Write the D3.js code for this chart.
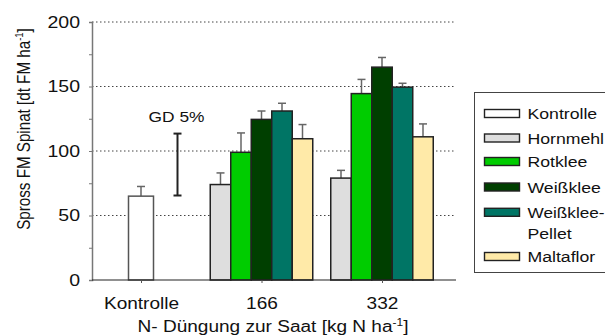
<!DOCTYPE html>
<html><head><meta charset="utf-8">
<script src="https://cdn.jsdelivr.net/npm/d3@7"></script>
<style>body{margin:0;background:#fff}svg{display:block}text{font-family:"Liberation Sans",Arial,sans-serif;fill:#111}</style>
</head><body>
<svg id="c" width="605" height="336"></svg>
<script>
const groups = ["Kontrolle", "166", "332"];
const series = ["Kontrolle", "Hornmehl", "Rotklee", "Weißklee", "Weißklee-Pellet", "Maltaflor"];
const colors = ["#ffffff", "#dedede", "#00cc00", "#003f00", "#007565", "#ffeaa8"];
// values per group (null = not present)
const vKontrolle = [65, null, null, null, null, null];
const v166 = [null, 74, 99, 124.5, 131, 109.5];
const v332 = [null, 79, 144.5, 165, 149.5, 111];
const eKontrolle = [72.5, null, null, null, null, null];
const e166 = [null, 83, 114, 131, 137, 120.5];
const e332 = [null, 85, 155.5, 172.5, 152.5, 121];
const gdLow = 65.5, gdHigh = 113.5;
const yTicks = [0, 50, 100, 150, 200];

const svg = d3.select("#c");
const y = d3.scaleLinear().domain([0, 200]).range([280, 22]);
const xg = d3.scalePoint().domain(groups).range([141, 382]);
const plotL = 92, plotR = 456;

function stext(parent, x, yy, s, size, sx, anchor) {
  const t = parent.append("text").attr("transform", `translate(${x},${yy}) scale(${sx},1)`)
    .attr("font-size", size).attr("text-anchor", anchor || "start");
  return t;
}

// gridlines
svg.append("g").selectAll("line").data(yTicks.filter(d => d > 0)).join("line")
  .attr("x1", plotL).attr("x2", plotR).attr("y1", d => y(d)).attr("y2", d => y(d))
  .attr("stroke", "#444").attr("stroke-width", 1).attr("stroke-dasharray", "1.5,2.5");

// y axis
const yAxis = d3.axisLeft(y).tickValues(d3.range(0, 201, 25)).tickSize(3)
  .tickFormat(d => yTicks.includes(d) ? d : "");
const ya = svg.append("g").attr("transform", `translate(${plotL},0)`).call(yAxis);
ya.select(".domain").attr("stroke", "#777").attr("stroke-width", 1.5);
ya.selectAll(".tick line").attr("stroke", "#777");
ya.selectAll(".tick text").attr("font-size", 16).attr("fill", "#111").attr("x", -9.8)
  .attr("transform", "scale(1.22,1)")
  .style("font-family", "Liberation Sans, Arial, sans-serif");

// bars
const bw = 20.5;
const data = [];
[[vKontrolle, eKontrolle], [v166, e166], [v332, e332]].forEach((pair, gi) => {
  const present = series.map((s, i) => i).filter(i => pair[0][i] !== null);
  const w = present.length === 1 ? 25 : bw;
  const xs = d3.scaleBand().domain(present).range([xg(groups[gi]) - w * present.length / 2, xg(groups[gi]) + w * present.length / 2]);
  present.forEach(i => data.push({ x: xs(i), w: xs.bandwidth(), v: pair[0][i], e: pair[1][i], c: colors[i], k: i === 0 }));
});

const eb = svg.append("g");
data.forEach(d => {
  const cx = d.x + d.w / 2;
  eb.append("line").attr("x1", cx).attr("x2", cx).attr("y1", y(d.v)).attr("y2", y(d.e)).attr("stroke", "#666").attr("stroke-width", 1.5);
  eb.append("line").attr("x1", cx - 4).attr("x2", cx + 4).attr("y1", y(d.e)).attr("y2", y(d.e)).attr("stroke", "#666").attr("stroke-width", 1.5);
});
svg.append("g").selectAll("rect").data(data).join("rect")
  .attr("x", d => d.x).attr("y", d => y(d.v)).attr("width", d => d.w).attr("height", d => y(0) - y(d.v))
  .attr("fill", d => d.c).attr("stroke", d => d.k ? "#555" : "#222").attr("stroke-width", 1.5);

// x axis baseline
svg.append("line").attr("x1", plotL).attr("x2", plotR).attr("y1", y(0)).attr("y2", y(0)).attr("stroke", "#222").attr("stroke-width", 1.2);
const xAxis = d3.axisBottom(xg).tickSize(3).tickPadding(0);
const xa = svg.append("g").attr("transform", `translate(0,${y(0)})`).call(xAxis);
xa.select(".domain").remove();
xa.selectAll(".tick line").attr("stroke", "#555");
xa.selectAll(".tick text").attr("font-size", 16).attr("fill", "#111").attr("dy", null).attr("y", 0)
  .attr("transform", "translate(0,29) scale(1.19,1)")
  .style("font-family", "Liberation Sans, Arial, sans-serif");

// GD 5%
const gdx = 177.5;
const gd = svg.append("g").attr("stroke", "#222").attr("stroke-width", 2);
gd.append("line").attr("x1", gdx).attr("x2", gdx).attr("y1", y(gdLow)).attr("y2", y(gdHigh));
gd.append("line").attr("x1", gdx - 4).attr("x2", gdx + 4).attr("y1", y(gdLow)).attr("y2", y(gdLow));
gd.append("line").attr("x1", gdx - 4).attr("x2", gdx + 4).attr("y1", y(gdHigh)).attr("y2", y(gdHigh));
stext(svg, 176.5, 121.5, "", 14, 1.24, "middle").text("GD 5%");

// axis titles
const yt = svg.append("text").attr("transform", "translate(30,129) rotate(-90) scale(1,1.2)").attr("text-anchor", "middle").attr("font-size", 15.2);
yt.append("tspan").text("Spross FM Spinat [dt FM ha");
yt.append("tspan").attr("font-size", 9.5).attr("dy", -6).text("-1");
yt.append("tspan").attr("dy", 6).text("]");
const xt = stext(svg, 273, 332, "", 16, 1.19, "middle");
xt.append("tspan").text("N- Düngung zur Saat [kg N ha");
xt.append("tspan").attr("font-size", 10).attr("dy", -6.5).text("-1");
xt.append("tspan").attr("dy", 6.5).text("]");

// legend
const lg = svg.append("g");
lg.append("rect").attr("x", 474.5).attr("y", 92.5).attr("width", 140).attr("height", 180).attr("fill", "#fff").attr("stroke", "#444").attr("stroke-width", 1);
const rowsY = [113.5, 138, 161.5, 187, 212.3, 256.5];
series.forEach((s, i) => {
  const cy = rowsY[i];
  lg.append("rect").attr("x", 484.5).attr("y", cy - 4).attr("width", 35).attr("height", 8).attr("fill", colors[i]).attr("stroke", "#222").attr("stroke-width", 1.4);
  if (s === "Weißklee-Pellet") {
    stext(lg, 527.5, cy + 5.7, "", 15.5, 1.11).text("Weißklee-");
    stext(lg, 527.5, cy + 27, "", 15.5, 1.14).text("Pellet");
  } else {
    stext(lg, 527.5, cy + 5.7, "", 15.5, 1.14).text(s);
  }
});
</script>
</body></html>
